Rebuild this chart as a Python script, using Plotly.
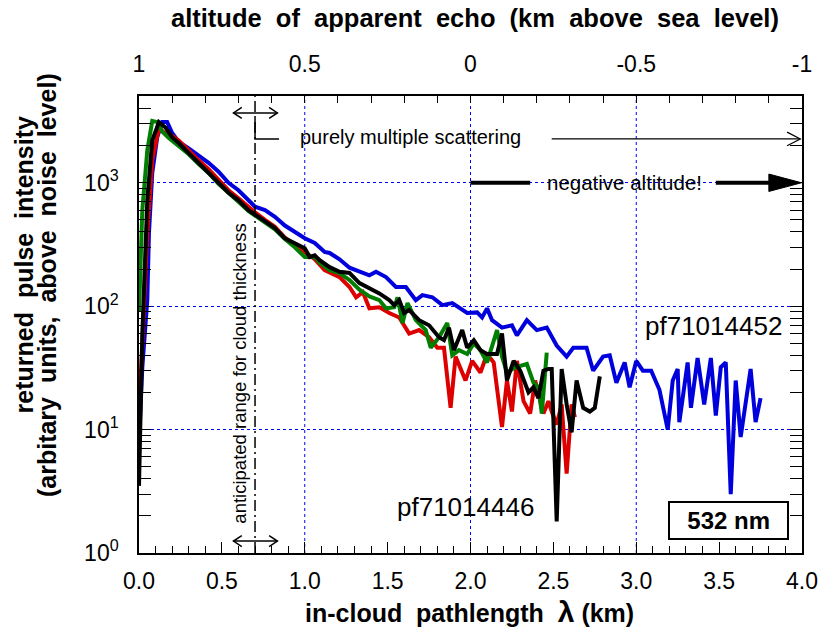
import numpy as np
import plotly.graph_objects as go

# ---------------- data ----------------
# pathlength lambda (km) and returned intensity for each profile
BLUE_X = [0.00, 0.02, 0.05, 0.06, 0.08, 0.11, 0.14, 0.17, 0.20, 0.24, 0.30, 0.36, 0.42, 0.48,
          0.54, 0.60, 0.66, 0.70, 0.76, 0.82, 0.88, 0.94, 1.00, 1.06, 1.12, 1.15, 1.21, 1.27,
          1.33, 1.39, 1.43, 1.49, 1.55, 1.61, 1.67, 1.71, 1.77, 1.83, 1.89, 1.93, 1.98, 2.04,
          2.07, 2.10, 2.13, 2.19, 2.25, 2.28, 2.34, 2.40, 2.46, 2.52, 2.58, 2.62, 2.70, 2.74,
          2.80, 2.84, 2.88, 2.93, 2.96, 3.00, 3.04, 3.09, 3.14, 3.19, 3.22, 3.25, 3.26, 3.31,
          3.33, 3.37, 3.41, 3.45, 3.48, 3.51, 3.54, 3.57, 3.60, 3.63, 3.69, 3.72, 3.75]
BLUE_Y = [8, 32, 112, 390, 1200, 2340, 3100, 3100, 2530, 2140, 1900, 1670, 1450, 1230,
          1000, 870, 720, 640, 600, 530, 450, 400, 355, 325, 275, 270, 240, 205,
          190, 178, 190, 172, 143, 143, 112, 123, 118, 102, 106, 98, 88, 89,
          81, 96, 77, 67, 70, 58, 77, 64, 67, 48, 39, 46, 46, 30,
          39, 40, 24, 35, 22, 36, 30, 30, 21, 10, 25, 31, 11.5, 35,
          15, 38, 16, 38, 13, 32, 35, 3, 25, 8.7, 31, 11.5, 18]

RED_X = [0.00, 0.02, 0.05, 0.08, 0.12, 0.16, 0.20, 0.24, 0.30, 0.36, 0.42, 0.48, 0.54, 0.60,
         0.66, 0.70, 0.76, 0.82, 0.88, 0.94, 1.00, 1.06, 1.12, 1.21, 1.27, 1.31, 1.35, 1.39,
         1.45, 1.51, 1.57, 1.63, 1.69, 1.75, 1.80, 1.84, 1.88, 1.91, 1.97, 2.01, 2.06, 2.10,
         2.14, 2.19, 2.22, 2.25, 2.28, 2.32, 2.36, 2.39, 2.44, 2.47, 2.49, 2.52, 2.55, 2.58,
         2.61, 2.63]
RED_Y = [12.6, 44, 390, 1520, 2750, 2500, 2400, 2200, 1820, 1520, 1290, 1050, 870, 750,
         630, 575, 500, 440, 360, 315, 275, 240, 196, 172, 143, 118, 130, 96,
         98, 88, 81, 60, 64, 56, 46, 46, 15, 39, 25, 36, 29, 41,
         35, 10.5, 25, 14, 36, 17, 13.5, 25, 13.5, 17, 14, 11, 16, 4.4,
         16, 12.6]

GREEN_X = [0.00, 0.02, 0.05, 0.08, 0.11, 0.14, 0.18, 0.24, 0.30, 0.36, 0.42, 0.48, 0.54, 0.60,
           0.66, 0.70, 0.76, 0.82, 0.88, 0.94, 1.00, 1.06, 1.09, 1.15, 1.21, 1.27, 1.33, 1.39,
           1.45, 1.49, 1.54, 1.56, 1.59, 1.62, 1.67, 1.73, 1.76, 1.81, 1.86, 1.89, 1.93, 1.98,
           2.02, 2.06, 2.10, 2.16, 2.19, 2.22, 2.27, 2.34, 2.38, 2.41, 2.43, 2.46]
GREEN_Y = [90, 600, 1830, 3170, 3100, 2600, 2300, 2000, 1700, 1420, 1200, 980, 820, 700,
           590, 540, 470, 420, 350, 300, 250, 252, 225, 196, 185, 163, 136, 120,
           112, 96, 98, 118, 73, 106, 77, 64, 46, 56, 73, 40, 44, 41,
           50, 44, 35, 64, 39, 29, 32, 34, 24, 22, 13.5, 42]

BLACK_X = [0.00, 0.02, 0.05, 0.08, 0.12, 0.16, 0.20, 0.24, 0.30, 0.36, 0.42, 0.48, 0.54, 0.60,
           0.66, 0.70, 0.76, 0.82, 0.88, 0.94, 1.00, 1.03, 1.06, 1.09, 1.15, 1.21, 1.27, 1.33,
           1.39, 1.45, 1.51, 1.54, 1.57, 1.60, 1.63, 1.69, 1.75, 1.81, 1.84, 1.87, 1.90, 1.95,
           1.98, 2.02, 2.06, 2.10, 2.16, 2.19, 2.22, 2.26, 2.30, 2.35, 2.38, 2.41, 2.44, 2.47,
           2.49, 2.52, 2.55, 2.58, 2.61, 2.64, 2.68, 2.72, 2.75, 2.78]
BLACK_Y = [3.5, 60, 720, 2200, 3100, 2800, 2340, 2100, 1740, 1450, 1230, 1000, 830, 720,
           600, 550, 480, 430, 355, 325, 295, 250, 258, 236, 207, 190, 186, 154,
           140, 127, 112, 102, 112, 88, 93, 77, 70, 56, 53, 67, 44, 64,
           46, 53, 44, 41, 41, 60, 25, 36, 30, 20, 22, 18, 30, 31,
           31, 1.8, 31, 16, 9.5, 25, 15, 14, 15, 27]

X_TICKS = [0.0, 0.5, 1.0, 1.5, 2.0, 2.5, 3.0, 3.5, 4.0]
ALT_TICKS = [1, 0.5, 0, -0.5, -1]
ALT_TICK_TEXT = ["1", "0.5", "0", "-0.5", "-1"]
Y_TICKS = [1, 10, 100, 1000]
Y_TICK_TEXT = ["10<sup>0</sup>", "10<sup>1</sup>", "10<sup>2</sup>", "10<sup>3</sup>"]
Y_MINOR = [2, 3, 4, 5, 6, 7, 8, 9, 20, 30, 40, 50, 60, 70, 80, 90,
           200, 300, 400, 500, 600, 700, 800, 900, 2000, 3000, 4000, 5000]
GRID_KM = [1, 2, 3]
CLOUD_EDGE_KM = 0.7

# ---------------- styling ----------------
FONT = "Liberation Sans, Arial, Helvetica, sans-serif"
YLOG_TOP = 3.703
BLUE = "#0000dd"
RED = "#dd0000"
GREEN = "#007f00"
GRID_BLUE = "#0000ff"


def ypaper(v):
    return np.log10(v) / YLOG_TOP


fig = go.Figure()
for xs, ys, col in [(BLUE_X, BLUE_Y, BLUE), (RED_X, RED_Y, RED),
                    (GREEN_X, GREEN_Y, GREEN), (BLACK_X, BLACK_Y, "#000000")]:
    fig.add_trace(go.Scatter(x=xs, y=ys, mode="lines",
                             line=dict(color=col, width=4),
                             showlegend=False, hoverinfo="skip"))

# invisible trace to activate the top (altitude) axis
fig.add_trace(go.Scatter(x=ALT_TICKS, y=[1] * len(ALT_TICKS), xaxis="x2", yaxis="y",
                         mode="markers", marker=dict(opacity=0), showlegend=False,
                         hoverinfo="skip"))

shapes = []
for g in GRID_KM:
    shapes.append(dict(type="line", xref="x", yref="paper", x0=g, x1=g, y0=0, y1=1,
                       line=dict(color=GRID_BLUE, width=1, dash="dot"), layer="below"))
# dash-dot cloud edge line
shapes.append(dict(type="line", xref="x", yref="paper", x0=CLOUD_EDGE_KM, x1=CLOUD_EDGE_KM,
                   y0=0, y1=1, line=dict(color="black", width=1.5, dash="11px,4px,2px,4px")))


def chevron(xtip, yp, direction, length, half, width=1.5):
    xb = xtip - direction * length
    return dict(type="path", xref="x", yref="paper",
                path=f"M {xb},{yp + half} L {xtip},{yp} L {xb},{yp - half}",
                line=dict(color="black", width=width))


# double-headed arrows (top and bottom)
for yp in [0.963, 0.026]:
    shapes.append(dict(type="line", xref="x", yref="paper", x0=0.57, x1=0.835, y0=yp, y1=yp,
                       line=dict(color="black", width=1.5)))
    shapes.append(chevron(0.57, yp, -1, 0.05, 0.012))
    shapes.append(chevron(0.835, yp, 1, 0.05, 0.012))

# bracket for purely multiple scattering
shapes.append(dict(type="path", xref="x", yref="paper",
                   path="M 0.7,0.952 L 0.7,0.906 L 0.845,0.906",
                   line=dict(color="black", width=1.5)))
# thin arrow
shapes.append(dict(type="line", xref="x", yref="paper", x0=2.49, x1=3.99, y0=0.906, y1=0.906,
                   line=dict(color="black", width=1.2)))
shapes.append(chevron(3.99, 0.906, 1, 0.08, 0.015, width=1.2))

# thick arrow: negative altitude
yk = ypaper(1000)
shapes.append(dict(type="line", xref="x", yref="paper", x0=2.0, x1=2.36, y0=yk, y1=yk,
                   line=dict(color="black", width=4)))
shapes.append(dict(type="line", xref="x", yref="paper", x0=3.48, x1=3.83, y0=yk, y1=yk,
                   line=dict(color="black", width=4)))
shapes.append(dict(type="path", xref="x", yref="paper",
                   path=f"M 3.80,{yk + 0.019} L 3.997,{yk} L 3.80,{yk - 0.019} Z",
                   fillcolor="black", line=dict(color="black", width=1)))


def note(text, x, y, size, xref="x", yref="paper", bold=False, angle=0, **kw):
    return dict(text=f"<b>{text}</b>" if bold else text, x=x, y=y, xref=xref, yref=yref,
                xanchor="center", yanchor="middle", showarrow=False, textangle=angle,
                font=dict(size=size, family=FONT, color="black"), **kw)


NB = "\u00a0"
annotations = [
    note(f"altitude{NB} of{NB} apparent{NB} echo{NB} (km{NB} above{NB} sea{NB} level)",
         0.507, 1.171, 25.5, xref="paper", bold=True),
    note(f"in-cloud{NB} pathlength{NB} <span style='font-size:30px'>λ</span> (km)",
         0.498, -0.129, 25, xref="paper", bold=True),
    note(f"returned{NB} pulse{NB} intensity", -0.173, 0.630, 25, xref="paper", bold=True,
         angle=-90),
    note(f"(arbitary{NB} units,{NB} above{NB} noise{NB} level)", -0.139, 0.586, 25,
         xref="paper", bold=True, angle=-90),
    note("purely multiple scattering", 1.64, 0.911, 20),
    note("negative altitude!", 2.93, yk, 20.5),
    note("anticipated range for cloud thickness", 0.608, 0.392, 18.5, angle=-90),
    note("pf71014452", 3.464, 0.497, 26),
    note("pf71014446", 1.97, 0.101, 26),
    note(f"{NB}{NB}532 nm{NB}{NB}", 3.555, 0.072, 24, bold=True,
         bordercolor="black", borderwidth=2, borderpad=4, bgcolor="white"),
]

fig.update_layout(
    template="none",
    width=819, height=630, autosize=False,
    margin=dict(l=139, r=17, t=96, b=77, pad=0, autoexpand=False),
    paper_bgcolor="white", plot_bgcolor="white",
    font=dict(family=FONT, color="black"),
    showlegend=False,
    shapes=shapes,
    annotations=annotations,
    xaxis=dict(range=[0, 4], tickmode="array", tickvals=X_TICKS,
               ticktext=[f"{v:.1f}" for v in X_TICKS], automargin=False,
               ticks="inside", ticklen=11, tickwidth=1, tickcolor="black",
               minor=dict(dtick=0.1, tick0=0, ticks="inside", ticklen=7, tickcolor="black",
                          tickwidth=1, showgrid=False),
               showline=True, linecolor="black", linewidth=1.5, mirror=True,
               showgrid=False, zeroline=False, ticklabelstandoff=7,
               tickfont=dict(size=23, family=FONT, color="black")),
    xaxis2=dict(overlaying="x", side="top", anchor="y", range=[1, -1], tickmode="array",
                tickvals=ALT_TICKS, ticktext=ALT_TICK_TEXT, automargin=False,
                ticks="inside", ticklen=7, tickwidth=1, tickcolor="black",
                minor=dict(dtick=0.1, tick0=0, ticks="inside", ticklen=7, tickcolor="black",
                           tickwidth=1, showgrid=False),
                showline=False, showgrid=False, zeroline=False, ticklabelstandoff=18,
                tickfont=dict(size=23, family=FONT, color="black")),
    yaxis=dict(type="log", range=[0, YLOG_TOP], tickmode="array", tickvals=Y_TICKS,
               ticktext=Y_TICK_TEXT, ticks="inside", ticklen=12, tickwidth=1,
               tickcolor="black", automargin=False,
               minor=dict(tickmode="array", tickvals=Y_MINOR, ticks="inside", ticklen=7,
                          tickcolor="black", tickwidth=1, showgrid=False),
               showline=True, linecolor="black", linewidth=1.5, mirror="allticks",
               showgrid=True, gridcolor=GRID_BLUE, gridwidth=1, griddash="dot",
               zeroline=False, ticklabelstandoff=14,
               tickfont=dict(size=23, family=FONT, color="black")),
)

fig.write_html("out.html", config={"displayModeBar": False},
               post_script="document.body.style.margin='0';")
